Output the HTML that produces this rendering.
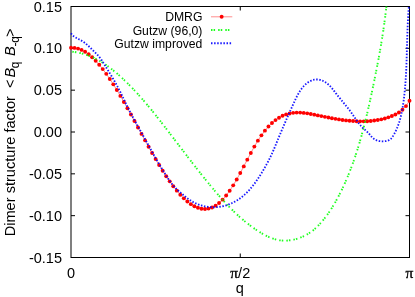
<!DOCTYPE html>
<html><head><meta charset="utf-8"><title>plot</title>
<style>
html,body{margin:0;padding:0;background:#fff;}
body{width:415px;height:297px;overflow:hidden;}
svg{display:block;will-change:transform;}
text{font-family:"Liberation Sans",sans-serif;font-size:14.5px;fill:#000;}
.pi{font-family:"Liberation Serif",serif;font-size:15.5px;stroke:#000;stroke-width:0.35px;}
.it{font-family:"Liberation Sans",sans-serif;font-style:italic;}
</style></head><body>
<svg width="415" height="297" viewBox="0 0 415 297">
<rect x="0" y="0" width="415" height="297" fill="#fff"/>
<g fill="none" stroke="#000" stroke-width="1" stroke-opacity="1">
<rect x="71.0" y="6.5" width="338.5" height="251.0"/>
<path d="M71.0,48.33h4M409.5,48.33h-4"/><path d="M71.0,90.17h4M409.5,90.17h-4"/><path d="M71.0,132.00h4M409.5,132.00h-4"/><path d="M71.0,173.83h4M409.5,173.83h-4"/><path d="M71.0,215.67h4M409.5,215.67h-4"/><path d="M240.25,6.5v4M240.25,257.5v-4"/>
</g>
<g fill="none" stroke="#ff0000" stroke-width="1" stroke-opacity="0.45">
<path d="M71.00,47.80 L74.53,47.91 L78.05,48.58 L81.58,49.88 L85.10,51.79 L88.63,54.27 L92.16,57.27 L95.68,60.77 L99.21,64.73 L102.73,69.10 L106.26,73.84 L109.79,78.93 L113.31,84.33 L116.84,89.99 L120.36,95.88 L123.89,101.96 L127.42,108.20 L130.94,114.55 L134.47,120.98 L137.99,127.45 L141.52,133.92 L145.05,140.36 L148.57,146.73 L152.10,152.99 L155.62,159.10 L159.15,165.03 L162.68,170.74 L166.20,176.19 L169.73,181.35 L173.26,186.18 L176.78,190.65 L180.31,194.71 L183.83,198.35 L187.36,201.51 L190.89,204.16 L194.41,206.27 L197.94,207.81 L201.46,208.73 L204.99,209.00 L208.52,208.60 L212.04,207.49 L215.57,205.65 L219.09,203.04 L222.62,199.65 L226.15,195.53 L229.67,190.74 L233.20,185.36 L236.72,179.43 L240.25,173.06 L243.78,166.40 L247.30,159.64 L250.83,152.97 L254.35,146.58 L257.88,140.65 L261.41,135.33 L264.93,130.64 L268.46,126.55 L271.98,123.04 L275.51,120.09 L279.04,117.69 L282.56,115.81 L286.09,114.41 L289.61,113.44 L293.14,112.85 L296.67,112.59 L300.19,112.62 L303.72,112.89 L307.24,113.34 L310.77,113.94 L314.30,114.64 L317.82,115.38 L321.35,116.12 L324.88,116.85 L328.40,117.55 L331.93,118.22 L335.45,118.84 L338.98,119.42 L342.51,119.93 L346.03,120.38 L349.56,120.75 L353.08,121.04 L356.61,121.24 L360.14,121.34 L363.66,121.33 L367.19,121.20 L370.71,120.95 L374.24,120.57 L377.77,120.04 L381.29,119.33 L384.82,118.45 L388.34,117.36 L391.87,116.06 L395.40,114.48 L398.92,112.45 L402.45,109.73 L405.97,106.10 L409.50,100.70"/>
<path d="M211,16.8H232.3"/>
</g>
<g fill="#ff0000" stroke="none"><circle cx="71.00" cy="47.80" r="1.95"/><circle cx="74.53" cy="47.91" r="1.95"/><circle cx="78.05" cy="48.58" r="1.95"/><circle cx="81.58" cy="49.88" r="1.95"/><circle cx="85.10" cy="51.79" r="1.95"/><circle cx="88.63" cy="54.27" r="1.95"/><circle cx="92.16" cy="57.27" r="1.95"/><circle cx="95.68" cy="60.77" r="1.95"/><circle cx="99.21" cy="64.73" r="1.95"/><circle cx="102.73" cy="69.10" r="1.95"/><circle cx="106.26" cy="73.84" r="1.95"/><circle cx="109.79" cy="78.93" r="1.95"/><circle cx="113.31" cy="84.33" r="1.95"/><circle cx="116.84" cy="89.99" r="1.95"/><circle cx="120.36" cy="95.88" r="1.95"/><circle cx="123.89" cy="101.96" r="1.95"/><circle cx="127.42" cy="108.20" r="1.95"/><circle cx="130.94" cy="114.55" r="1.95"/><circle cx="134.47" cy="120.98" r="1.95"/><circle cx="137.99" cy="127.45" r="1.95"/><circle cx="141.52" cy="133.92" r="1.95"/><circle cx="145.05" cy="140.36" r="1.95"/><circle cx="148.57" cy="146.73" r="1.95"/><circle cx="152.10" cy="152.99" r="1.95"/><circle cx="155.62" cy="159.10" r="1.95"/><circle cx="159.15" cy="165.03" r="1.95"/><circle cx="162.68" cy="170.74" r="1.95"/><circle cx="166.20" cy="176.19" r="1.95"/><circle cx="169.73" cy="181.35" r="1.95"/><circle cx="173.26" cy="186.18" r="1.95"/><circle cx="176.78" cy="190.65" r="1.95"/><circle cx="180.31" cy="194.71" r="1.95"/><circle cx="183.83" cy="198.35" r="1.95"/><circle cx="187.36" cy="201.51" r="1.95"/><circle cx="190.89" cy="204.16" r="1.95"/><circle cx="194.41" cy="206.27" r="1.95"/><circle cx="197.94" cy="207.81" r="1.95"/><circle cx="201.46" cy="208.73" r="1.95"/><circle cx="204.99" cy="209.00" r="1.95"/><circle cx="208.52" cy="208.60" r="1.95"/><circle cx="212.04" cy="207.49" r="1.95"/><circle cx="215.57" cy="205.65" r="1.95"/><circle cx="219.09" cy="203.04" r="1.95"/><circle cx="222.62" cy="199.65" r="1.95"/><circle cx="226.15" cy="195.53" r="1.95"/><circle cx="229.67" cy="190.74" r="1.95"/><circle cx="233.20" cy="185.36" r="1.95"/><circle cx="236.72" cy="179.43" r="1.95"/><circle cx="240.25" cy="173.06" r="1.95"/><circle cx="243.78" cy="166.40" r="1.95"/><circle cx="247.30" cy="159.64" r="1.95"/><circle cx="250.83" cy="152.97" r="1.95"/><circle cx="254.35" cy="146.58" r="1.95"/><circle cx="257.88" cy="140.65" r="1.95"/><circle cx="261.41" cy="135.33" r="1.95"/><circle cx="264.93" cy="130.64" r="1.95"/><circle cx="268.46" cy="126.55" r="1.95"/><circle cx="271.98" cy="123.04" r="1.95"/><circle cx="275.51" cy="120.09" r="1.95"/><circle cx="279.04" cy="117.69" r="1.95"/><circle cx="282.56" cy="115.81" r="1.95"/><circle cx="286.09" cy="114.41" r="1.95"/><circle cx="289.61" cy="113.44" r="1.95"/><circle cx="293.14" cy="112.85" r="1.95"/><circle cx="296.67" cy="112.59" r="1.95"/><circle cx="300.19" cy="112.62" r="1.95"/><circle cx="303.72" cy="112.89" r="1.95"/><circle cx="307.24" cy="113.34" r="1.95"/><circle cx="310.77" cy="113.94" r="1.95"/><circle cx="314.30" cy="114.64" r="1.95"/><circle cx="317.82" cy="115.38" r="1.95"/><circle cx="321.35" cy="116.12" r="1.95"/><circle cx="324.88" cy="116.85" r="1.95"/><circle cx="328.40" cy="117.55" r="1.95"/><circle cx="331.93" cy="118.22" r="1.95"/><circle cx="335.45" cy="118.84" r="1.95"/><circle cx="338.98" cy="119.42" r="1.95"/><circle cx="342.51" cy="119.93" r="1.95"/><circle cx="346.03" cy="120.38" r="1.95"/><circle cx="349.56" cy="120.75" r="1.95"/><circle cx="353.08" cy="121.04" r="1.95"/><circle cx="356.61" cy="121.24" r="1.95"/><circle cx="360.14" cy="121.34" r="1.95"/><circle cx="363.66" cy="121.33" r="1.95"/><circle cx="367.19" cy="121.20" r="1.95"/><circle cx="370.71" cy="120.95" r="1.95"/><circle cx="374.24" cy="120.57" r="1.95"/><circle cx="377.77" cy="120.04" r="1.95"/><circle cx="381.29" cy="119.33" r="1.95"/><circle cx="384.82" cy="118.45" r="1.95"/><circle cx="388.34" cy="117.36" r="1.95"/><circle cx="391.87" cy="116.06" r="1.95"/><circle cx="395.40" cy="114.48" r="1.95"/><circle cx="398.92" cy="112.45" r="1.95"/><circle cx="402.45" cy="109.73" r="1.95"/><circle cx="405.97" cy="106.10" r="1.95"/><circle cx="409.50" cy="100.70" r="1.95"/><circle cx="221.65" cy="16.8" r="1.95"/></g>
<g fill="none" stroke="#00ff00" stroke-width="1.9" stroke-dasharray="1.5 1.1 1.5 3.05" stroke-dashoffset="-1.5" stroke-opacity="0.88">
<path d="M70.81,51.58 L71.65,51.65 L72.49,51.74 L73.33,51.83 L74.16,51.94 L74.98,52.06 L75.80,52.19 L76.62,52.33 L77.43,52.47 L78.24,52.63 L79.04,52.80 L79.84,52.98 L80.64,53.17 L81.43,53.36 L82.21,53.57 L82.99,53.78 L83.77,54.01 L84.54,54.24 L85.31,54.49 L86.08,54.74 L86.84,55.00 L87.59,55.27 L88.34,55.54 L89.09,55.83 L89.84,56.12 L90.58,56.42 L91.31,56.73 L92.05,57.05 L92.77,57.38 L93.50,57.71 L94.22,58.05 L94.94,58.40 L95.65,58.75 L96.36,59.11 L97.07,59.48 L97.77,59.86 L98.47,60.24 L99.17,60.63 L99.86,61.03 L100.55,61.43 L101.23,61.84 L101.92,62.25 L102.59,62.68 L103.27,63.10 L103.94,63.54 L104.61,63.97 L105.28,64.42 L105.94,64.87 L106.60,65.32 L107.26,65.78 L107.91,66.25 L108.56,66.72 L109.21,67.19 L109.85,67.67 L110.49,68.16 L111.13,68.65 L111.77,69.14 L112.40,69.64 L113.03,70.14 L113.66,70.65 L114.29,71.16 L114.91,71.67 L115.53,72.19 L116.15,72.71 L116.76,73.24 L117.37,73.76 L117.98,74.29 L118.59,74.83 L119.19,75.37 L119.80,75.91 L120.40,76.45 L121.00,76.99 L121.59,77.54 L122.18,78.09 L122.78,78.65 L123.36,79.20 L123.95,79.76 L124.54,80.32 L125.12,80.88 L125.70,81.44 L126.28,82.00 L126.86,82.57 L127.43,83.14 L128.00,83.71 L128.58,84.28 L129.14,84.85 L129.71,85.42 L130.28,86.00 L130.84,86.58 L131.40,87.16 L131.96,87.74 L132.52,88.32 L133.08,88.90 L133.63,89.49 L134.19,90.08 L134.74,90.66 L135.29,91.25 L135.84,91.85 L136.38,92.44 L136.93,93.03 L137.47,93.63 L138.01,94.22 L138.55,94.82 L139.09,95.42 L139.63,96.02 L140.16,96.62 L140.70,97.22 L141.23,97.83 L141.76,98.43 L142.29,99.04 L142.82,99.65 L143.35,100.26 L143.88,100.87 L144.40,101.48 L144.93,102.09 L145.45,102.70 L145.97,103.32 L146.49,103.93 L147.01,104.55 L147.53,105.16 L148.04,105.78 L148.56,106.40 L149.07,107.02 L149.59,107.64 L150.10,108.26 L150.61,108.89 L151.12,109.51 L151.63,110.13 L152.14,110.76 L152.65,111.38 L153.15,112.01 L153.66,112.64 L154.16,113.27 L154.67,113.89 L155.17,114.52 L155.67,115.15 L156.18,115.78 L156.68,116.41 L157.18,117.05 L157.68,117.68 L158.17,118.31 L158.67,118.94 L159.17,119.58 L159.67,120.21 L160.16,120.85 L160.66,121.48 L161.15,122.12 L161.65,122.75 L162.14,123.39 L162.63,124.03 L163.13,124.66 L163.62,125.30 L164.11,125.94 L164.60,126.58 L165.09,127.21 L165.59,127.85 L166.08,128.49 L166.57,129.13 L167.06,129.77 L167.54,130.41 L168.03,131.05 L168.52,131.69 L169.01,132.33 L169.50,132.97 L169.99,133.61 L170.48,134.25 L170.96,134.89 L171.45,135.53 L171.94,136.17 L172.43,136.81 L172.91,137.45 L173.40,138.09 L173.89,138.73 L174.38,139.37 L174.86,140.01 L175.35,140.65 L175.84,141.29 L176.32,141.93 L176.81,142.57 L177.30,143.21 L177.78,143.85 L178.27,144.49 L178.76,145.13 L179.24,145.77 L179.73,146.41 L180.22,147.06 L180.70,147.70 L181.19,148.34 L181.68,148.98 L182.16,149.62 L182.65,150.26 L183.14,150.90 L183.63,151.54 L184.11,152.18 L184.60,152.81 L185.09,153.45 L185.58,154.09 L186.07,154.73 L186.55,155.37 L187.04,156.01 L187.53,156.65 L188.02,157.29 L188.51,157.93 L189.00,158.56 L189.49,159.20 L189.98,159.84 L190.47,160.48 L190.96,161.11 L191.46,161.75 L191.95,162.39 L192.44,163.02 L192.93,163.66 L193.43,164.30 L193.92,164.93 L194.41,165.57 L194.91,166.20 L195.40,166.84 L195.90,167.47 L196.39,168.10 L196.89,168.74 L197.39,169.37 L197.88,170.01 L198.38,170.64 L198.88,171.27 L199.38,171.90 L199.88,172.53 L200.38,173.17 L200.88,173.80 L201.38,174.43 L201.88,175.06 L202.38,175.69 L202.89,176.32 L203.39,176.95 L203.89,177.57 L204.40,178.20 L204.90,178.83 L205.41,179.46 L205.92,180.08 L206.43,180.71 L206.93,181.34 L207.44,181.96 L207.95,182.59 L208.47,183.21 L208.98,183.83 L209.49,184.46 L210.00,185.08 L210.52,185.70 L211.03,186.32 L211.55,186.95 L212.06,187.57 L212.58,188.19 L213.10,188.81 L213.62,189.42 L214.14,190.04 L214.66,190.66 L215.18,191.28 L215.71,191.89 L216.23,192.51 L216.76,193.12 L217.29,193.73 L217.81,194.34 L218.34,194.95 L218.87,195.56 L219.41,196.17 L219.94,196.78 L220.47,197.38 L221.01,197.99 L221.55,198.59 L222.09,199.19 L222.63,199.79 L223.17,200.39 L223.71,200.99 L224.26,201.59 L224.80,202.18 L225.35,202.77 L225.90,203.36 L226.45,203.95 L227.00,204.54 L227.56,205.12 L228.12,205.71 L228.67,206.29 L229.23,206.87 L229.80,207.45 L230.36,208.02 L230.93,208.60 L231.49,209.17 L232.06,209.74 L232.63,210.30 L233.21,210.87 L233.78,211.43 L234.36,211.99 L234.94,212.55 L235.52,213.10 L236.11,213.66 L236.69,214.21 L237.28,214.75 L237.87,215.30 L238.46,215.84 L239.06,216.38 L239.66,216.92 L240.26,217.45 L240.86,217.98 L241.47,218.51 L242.07,219.03 L242.68,219.56 L243.29,220.08 L243.91,220.59 L244.53,221.11 L245.15,221.62 L245.77,222.12 L246.40,222.63 L247.02,223.13 L247.65,223.62 L248.29,224.12 L248.92,224.61 L249.56,225.09 L250.20,225.58 L250.85,226.05 L251.50,226.53 L252.15,227.00 L252.80,227.47 L253.46,227.94 L254.12,228.40 L254.78,228.85 L255.45,229.31 L256.12,229.76 L256.79,230.20 L257.46,230.64 L258.14,231.08 L258.82,231.51 L259.51,231.94 L260.20,232.37 L260.89,232.79 L261.58,233.20 L262.28,233.61 L262.98,234.02 L263.69,234.41 L264.40,234.80 L265.11,235.18 L265.82,235.55 L266.54,235.92 L267.26,236.27 L267.99,236.61 L268.72,236.95 L269.45,237.27 L270.19,237.58 L270.93,237.88 L271.68,238.16 L272.43,238.43 L273.18,238.69 L273.93,238.94 L274.69,239.17 L275.46,239.38 L276.23,239.58 L277.00,239.76 L277.77,239.93 L278.55,240.08 L279.34,240.21 L280.12,240.32 L280.92,240.41 L281.71,240.49 L282.51,240.55 L283.31,240.59 L284.11,240.61 L284.91,240.62 L285.72,240.61 L286.52,240.58 L287.33,240.54 L288.13,240.48 L288.94,240.41 L289.75,240.31 L290.55,240.21 L291.35,240.09 L292.15,239.95 L292.95,239.80 L293.75,239.63 L294.54,239.45 L295.33,239.25 L296.12,239.04 L296.90,238.81 L297.68,238.58 L298.45,238.32 L299.22,238.06 L299.99,237.78 L300.75,237.48 L301.50,237.18 L302.25,236.86 L302.99,236.53 L303.73,236.18 L304.46,235.83 L305.19,235.46 L305.90,235.08 L306.61,234.69 L307.32,234.28 L308.01,233.87 L308.70,233.44 L309.38,233.00 L310.05,232.55 L310.71,232.10 L311.36,231.63 L312.01,231.15 L312.64,230.66 L313.27,230.16 L313.88,229.65 L314.49,229.13 L315.09,228.60 L315.69,228.07 L316.27,227.53 L316.85,226.98 L317.42,226.42 L317.98,225.85 L318.54,225.28 L319.09,224.70 L319.64,224.12 L320.18,223.53 L320.71,222.94 L321.24,222.34 L321.76,221.74 L322.28,221.13 L322.80,220.51 L323.31,219.90 L323.81,219.28 L324.31,218.65 L324.81,218.02 L325.30,217.39 L325.79,216.75 L326.27,216.11 L326.75,215.47 L327.22,214.82 L327.69,214.17 L328.15,213.51 L328.61,212.85 L329.07,212.19 L329.52,211.53 L329.97,210.86 L330.42,210.19 L330.86,209.51 L331.30,208.83 L331.73,208.15 L332.16,207.47 L332.58,206.79 L333.01,206.10 L333.42,205.41 L333.84,204.71 L334.25,204.02 L334.66,203.32 L335.06,202.62 L335.46,201.92 L335.86,201.21 L336.26,200.51 L336.65,199.80 L337.04,199.09 L337.42,198.38 L337.80,197.66 L338.18,196.95 L338.56,196.23 L338.93,195.51 L339.30,194.79 L339.67,194.07 L340.03,193.35 L340.40,192.63 L340.76,191.90 L341.11,191.18 L341.47,190.45 L341.82,189.73 L342.17,189.00 L342.51,188.27 L342.86,187.54 L343.20,186.81 L343.54,186.08 L343.88,185.35 L344.21,184.61 L344.54,183.88 L344.87,183.15 L345.20,182.41 L345.52,181.67 L345.85,180.94 L346.17,180.20 L346.48,179.46 L346.80,178.72 L347.11,177.98 L347.42,177.24 L347.73,176.50 L348.04,175.75 L348.34,175.01 L348.65,174.26 L348.95,173.52 L349.24,172.77 L349.54,172.03 L349.83,171.28 L350.12,170.53 L350.41,169.78 L350.70,169.03 L350.99,168.28 L351.27,167.53 L351.55,166.78 L351.83,166.02 L352.11,165.27 L352.39,164.52 L352.66,163.76 L352.93,163.01 L353.20,162.25 L353.47,161.49 L353.74,160.73 L354.00,159.98 L354.26,159.22 L354.52,158.46 L354.78,157.70 L355.04,156.93 L355.30,156.17 L355.55,155.41 L355.80,154.65 L356.05,153.88 L356.30,153.12 L356.55,152.35 L356.80,151.59 L357.04,150.82 L357.28,150.06 L357.52,149.29 L357.76,148.52 L358.00,147.75 L358.24,146.98 L358.47,146.21 L358.70,145.44 L358.93,144.67 L359.16,143.90 L359.39,143.13 L359.62,142.36 L359.84,141.58 L360.07,140.81 L360.29,140.04 L360.51,139.26 L360.73,138.49 L360.95,137.71 L361.17,136.94 L361.38,136.16 L361.60,135.39 L361.81,134.61 L362.02,133.83 L362.24,133.05 L362.45,132.28 L362.65,131.50 L362.86,130.72 L363.07,129.94 L363.27,129.16 L363.47,128.38 L363.68,127.60 L363.88,126.82 L364.08,126.04 L364.28,125.25 L364.48,124.47 L364.67,123.69 L364.87,122.91 L365.06,122.13 L365.26,121.34 L365.45,120.56 L365.64,119.78 L365.83,118.99 L366.02,118.21 L366.21,117.42 L366.40,116.64 L366.59,115.85 L366.77,115.07 L366.96,114.28 L367.14,113.50 L367.33,112.71 L367.51,111.92 L367.69,111.14 L367.87,110.35 L368.05,109.56 L368.23,108.78 L368.41,107.99 L368.59,107.20 L368.77,106.42 L368.94,105.63 L369.12,104.84 L369.30,104.05 L369.47,103.26 L369.64,102.48 L369.82,101.69 L369.99,100.90 L370.16,100.11 L370.34,99.32 L370.51,98.53 L370.68,97.75 L370.85,96.96 L371.02,96.17 L371.19,95.38 L371.36,94.59 L371.52,93.80 L371.69,93.01 L371.86,92.22 L372.03,91.43 L372.19,90.65 L372.36,89.86 L372.53,89.07 L372.69,88.28 L372.86,87.49 L373.02,86.70 L373.19,85.91 L373.35,85.12 L373.51,84.33 L373.68,83.54 L373.84,82.75 L374.00,81.97 L374.16,81.18 L374.33,80.39 L374.49,79.60 L374.65,78.81 L374.81,78.02 L374.97,77.23 L375.13,76.44 L375.29,75.65 L375.44,74.86 L375.60,74.07 L375.76,73.28 L375.92,72.49 L376.07,71.70 L376.23,70.91 L376.38,70.12 L376.54,69.33 L376.69,68.55 L376.85,67.76 L377.00,66.97 L377.15,66.18 L377.30,65.38 L377.45,64.59 L377.61,63.80 L377.76,63.01 L377.90,62.22 L378.05,61.43 L378.20,60.64 L378.35,59.85 L378.50,59.06 L378.64,58.27 L378.79,57.48 L378.93,56.69 L379.08,55.90 L379.22,55.10 L379.36,54.31 L379.51,53.52 L379.65,52.73 L379.79,51.94 L379.93,51.15 L380.07,50.35 L380.21,49.56 L380.35,48.77 L380.48,47.98 L380.62,47.18 L380.75,46.39 L380.89,45.60 L381.02,44.80 L381.16,44.01 L381.29,43.22 L381.42,42.42 L381.55,41.63 L381.68,40.83 L381.81,40.04 L381.94,39.25 L382.07,38.45 L382.20,37.66 L382.32,36.86 L382.45,36.07 L382.57,35.27 L382.69,34.48 L382.82,33.68 L382.94,32.88 L383.06,32.09 L383.18,31.29 L383.30,30.49 L383.42,29.70 L383.53,28.90 L383.65,28.10 L383.76,27.31 L383.88,26.51 L383.99,25.71 L384.10,24.91 L384.21,24.11 L384.32,23.32 L384.43,22.52 L384.54,21.72 L384.65,20.92 L384.76,20.12 L384.86,19.32 L384.97,18.52 L385.07,17.72 L385.17,16.92 L385.27,16.12 L385.37,15.32 L385.47,14.52 L385.57,13.71 L385.67,12.91 L385.76,12.11 L385.86,11.31 L385.95,10.50 L386.04,9.70 L386.13,8.90 L386.22,8.10 L386.31,7.29 L386.40,6.49"/>
<path d="M211,30H232.3" stroke-dashoffset="0"/>
</g>
<g fill="none" stroke="#0000ff" stroke-width="1.85" stroke-dasharray="1.5 1.6" stroke-dashoffset="0" stroke-opacity="0.9">
<path d="M71.01,33.28 L71.43,33.89 L71.89,34.46 L72.38,35.00 L72.89,35.49 L73.43,35.96 L73.99,36.40 L74.57,36.81 L75.16,37.21 L75.77,37.58 L76.39,37.94 L77.01,38.29 L77.65,38.63 L78.29,38.96 L78.93,39.29 L79.57,39.62 L80.21,39.95 L80.84,40.29 L81.47,40.64 L82.09,41.00 L82.69,41.38 L83.29,41.78 L83.87,42.18 L84.45,42.60 L85.02,43.03 L85.58,43.47 L86.13,43.92 L86.67,44.38 L87.21,44.85 L87.74,45.32 L88.27,45.80 L88.80,46.29 L89.32,46.78 L89.83,47.28 L90.35,47.78 L90.86,48.28 L91.37,48.78 L91.88,49.29 L92.40,49.79 L92.91,50.30 L93.42,50.80 L93.93,51.31 L94.45,51.81 L94.96,52.31 L95.48,52.82 L95.99,53.32 L96.49,53.83 L96.99,54.34 L97.49,54.86 L97.97,55.39 L98.45,55.92 L98.91,56.46 L99.37,57.01 L99.81,57.57 L100.24,58.13 L100.66,58.71 L101.07,59.29 L101.47,59.88 L101.87,60.48 L102.26,61.08 L102.64,61.68 L103.02,62.29 L103.40,62.90 L103.77,63.52 L104.14,64.13 L104.52,64.75 L104.89,65.36 L105.26,65.97 L105.64,66.58 L106.02,67.20 L106.39,67.81 L106.77,68.42 L107.15,69.03 L107.53,69.64 L107.91,70.25 L108.29,70.86 L108.66,71.47 L109.04,72.08 L109.42,72.69 L109.80,73.30 L110.18,73.91 L110.55,74.52 L110.93,75.13 L111.30,75.74 L111.68,76.35 L112.05,76.97 L112.42,77.58 L112.79,78.20 L113.15,78.81 L113.52,79.43 L113.88,80.05 L114.24,80.66 L114.60,81.28 L114.95,81.91 L115.31,82.53 L115.66,83.15 L116.00,83.78 L116.35,84.41 L116.69,85.03 L117.03,85.66 L117.36,86.30 L117.70,86.93 L118.03,87.56 L118.36,88.20 L118.69,88.83 L119.01,89.47 L119.34,90.11 L119.66,90.75 L119.98,91.39 L120.30,92.03 L120.62,92.67 L120.93,93.31 L121.25,93.96 L121.56,94.60 L121.88,95.24 L122.19,95.89 L122.50,96.53 L122.81,97.18 L123.12,97.82 L123.43,98.47 L123.75,99.11 L124.06,99.76 L124.37,100.40 L124.68,101.05 L124.99,101.69 L125.30,102.34 L125.62,102.98 L125.93,103.63 L126.24,104.27 L126.56,104.92 L126.87,105.56 L127.19,106.20 L127.51,106.84 L127.83,107.48 L128.15,108.12 L128.48,108.76 L128.80,109.40 L129.13,110.04 L129.46,110.68 L129.78,111.31 L130.11,111.95 L130.45,112.58 L130.78,113.22 L131.11,113.85 L131.45,114.49 L131.79,115.12 L132.12,115.75 L132.46,116.38 L132.80,117.01 L133.14,117.64 L133.49,118.27 L133.83,118.90 L134.17,119.53 L134.51,120.16 L134.86,120.79 L135.21,121.42 L135.55,122.05 L135.90,122.67 L136.24,123.30 L136.59,123.93 L136.94,124.56 L137.29,125.18 L137.64,125.81 L137.99,126.44 L138.33,127.06 L138.68,127.69 L139.03,128.31 L139.38,128.94 L139.73,129.56 L140.08,130.19 L140.43,130.82 L140.78,131.44 L141.13,132.07 L141.48,132.69 L141.83,133.32 L142.18,133.95 L142.53,134.57 L142.87,135.20 L143.22,135.82 L143.57,136.45 L143.92,137.08 L144.26,137.70 L144.61,138.33 L144.96,138.96 L145.30,139.58 L145.65,140.21 L146.00,140.84 L146.34,141.46 L146.69,142.09 L147.04,142.71 L147.38,143.34 L147.73,143.97 L148.08,144.59 L148.42,145.22 L148.77,145.85 L149.12,146.47 L149.47,147.10 L149.81,147.72 L150.16,148.35 L150.51,148.97 L150.86,149.60 L151.21,150.22 L151.56,150.85 L151.91,151.47 L152.26,152.10 L152.61,152.72 L152.96,153.35 L153.31,153.97 L153.66,154.59 L154.02,155.22 L154.37,155.84 L154.72,156.46 L155.08,157.08 L155.43,157.70 L155.79,158.33 L156.15,158.95 L156.50,159.57 L156.86,160.19 L157.22,160.81 L157.58,161.43 L157.94,162.05 L158.30,162.66 L158.67,163.28 L159.03,163.90 L159.39,164.52 L159.76,165.13 L160.13,165.75 L160.49,166.37 L160.86,166.98 L161.23,167.60 L161.60,168.21 L161.97,168.83 L162.35,169.44 L162.72,170.05 L163.10,170.66 L163.47,171.27 L163.85,171.89 L164.23,172.50 L164.61,173.11 L164.99,173.71 L165.38,174.32 L165.76,174.93 L166.15,175.54 L166.53,176.14 L166.92,176.75 L167.31,177.35 L167.71,177.96 L168.10,178.56 L168.50,179.15 L168.91,179.75 L169.31,180.34 L169.72,180.93 L170.14,181.51 L170.56,182.09 L170.98,182.67 L171.42,183.24 L171.85,183.80 L172.30,184.36 L172.75,184.91 L173.21,185.46 L173.67,185.99 L174.15,186.52 L174.63,187.05 L175.12,187.56 L175.61,188.07 L176.12,188.58 L176.63,189.07 L177.14,189.57 L177.66,190.06 L178.18,190.54 L178.71,191.02 L179.24,191.50 L179.78,191.97 L180.31,192.45 L180.85,192.92 L181.40,193.38 L181.94,193.85 L182.49,194.32 L183.04,194.78 L183.59,195.25 L184.14,195.71 L184.69,196.17 L185.25,196.62 L185.81,197.07 L186.38,197.51 L186.94,197.95 L187.51,198.38 L188.09,198.80 L188.67,199.21 L189.26,199.62 L189.85,200.02 L190.44,200.40 L191.04,200.78 L191.65,201.15 L192.26,201.51 L192.89,201.87 L193.51,202.21 L194.15,202.54 L194.78,202.86 L195.43,203.17 L196.08,203.47 L196.74,203.76 L197.40,204.04 L198.06,204.30 L198.73,204.56 L199.41,204.81 L200.09,205.04 L200.77,205.27 L201.45,205.48 L202.15,205.68 L202.84,205.87 L203.53,206.05 L204.23,206.22 L204.94,206.37 L205.64,206.51 L206.35,206.64 L207.06,206.76 L207.77,206.87 L208.48,206.96 L209.19,207.04 L209.91,207.11 L210.62,207.16 L211.34,207.21 L212.05,207.24 L212.77,207.26 L213.49,207.26 L214.20,207.26 L214.92,207.24 L215.64,207.21 L216.35,207.17 L217.07,207.12 L217.78,207.05 L218.49,206.97 L219.20,206.88 L219.91,206.78 L220.62,206.67 L221.32,206.54 L222.03,206.41 L222.72,206.26 L223.42,206.10 L224.12,205.93 L224.81,205.74 L225.49,205.55 L226.18,205.34 L226.86,205.13 L227.54,204.90 L228.21,204.66 L228.88,204.41 L229.54,204.15 L230.20,203.88 L230.86,203.60 L231.51,203.30 L232.16,203.00 L232.81,202.69 L233.45,202.37 L234.08,202.04 L234.71,201.70 L235.34,201.35 L235.96,200.99 L236.57,200.62 L237.19,200.25 L237.79,199.86 L238.39,199.47 L238.99,199.07 L239.58,198.66 L240.17,198.24 L240.75,197.82 L241.32,197.39 L241.89,196.95 L242.45,196.50 L243.01,196.05 L243.56,195.59 L244.11,195.12 L244.65,194.64 L245.18,194.16 L245.71,193.68 L246.23,193.18 L246.74,192.68 L247.25,192.18 L247.76,191.67 L248.25,191.15 L248.74,190.63 L249.22,190.10 L249.70,189.57 L250.17,189.03 L250.64,188.49 L251.10,187.95 L251.56,187.40 L252.01,186.84 L252.46,186.28 L252.90,185.72 L253.33,185.16 L253.77,184.59 L254.20,184.01 L254.62,183.44 L255.04,182.86 L255.46,182.28 L255.87,181.69 L256.28,181.11 L256.69,180.52 L257.10,179.93 L257.50,179.33 L257.90,178.74 L258.30,178.14 L258.69,177.55 L259.08,176.95 L259.47,176.35 L259.86,175.74 L260.25,175.14 L260.63,174.53 L261.01,173.93 L261.39,173.32 L261.77,172.71 L262.14,172.10 L262.51,171.48 L262.88,170.87 L263.25,170.25 L263.61,169.64 L263.97,169.02 L264.33,168.40 L264.69,167.78 L265.04,167.16 L265.39,166.53 L265.74,165.91 L266.09,165.28 L266.43,164.65 L266.78,164.02 L267.12,163.39 L267.45,162.76 L267.79,162.12 L268.12,161.49 L268.45,160.85 L268.77,160.22 L269.10,159.58 L269.42,158.94 L269.74,158.30 L270.05,157.65 L270.37,157.01 L270.68,156.36 L270.98,155.72 L271.29,155.07 L271.59,154.42 L271.89,153.77 L272.19,153.12 L272.48,152.46 L272.78,151.81 L273.06,151.15 L273.35,150.50 L273.64,149.84 L273.92,149.18 L274.20,148.52 L274.48,147.86 L274.75,147.20 L275.03,146.54 L275.30,145.88 L275.58,145.22 L275.85,144.55 L276.12,143.89 L276.39,143.23 L276.66,142.56 L276.93,141.90 L277.20,141.24 L277.47,140.57 L277.74,139.91 L278.02,139.25 L278.29,138.58 L278.56,137.92 L278.83,137.26 L279.11,136.60 L279.38,135.93 L279.66,135.27 L279.93,134.61 L280.21,133.95 L280.48,133.29 L280.76,132.63 L281.04,131.97 L281.32,131.31 L281.60,130.65 L281.88,129.99 L282.16,129.33 L282.44,128.67 L282.72,128.02 L283.00,127.36 L283.28,126.70 L283.56,126.04 L283.85,125.38 L284.13,124.73 L284.42,124.07 L284.70,123.41 L284.99,122.76 L285.27,122.10 L285.56,121.44 L285.84,120.79 L286.13,120.13 L286.42,119.48 L286.71,118.82 L287.00,118.16 L287.29,117.51 L287.58,116.85 L287.87,116.20 L288.16,115.54 L288.45,114.89 L288.74,114.23 L289.03,113.58 L289.32,112.93 L289.61,112.27 L289.91,111.62 L290.20,110.96 L290.49,110.31 L290.79,109.65 L291.08,109.00 L291.38,108.35 L291.67,107.69 L291.97,107.04 L292.26,106.39 L292.56,105.73 L292.86,105.08 L293.15,104.43 L293.45,103.77 L293.75,103.12 L294.05,102.47 L294.35,101.81 L294.65,101.16 L294.95,100.51 L295.25,99.86 L295.55,99.21 L295.86,98.56 L296.17,97.91 L296.49,97.27 L296.81,96.63 L297.13,95.99 L297.46,95.36 L297.80,94.73 L298.14,94.10 L298.49,93.48 L298.84,92.86 L299.21,92.25 L299.58,91.64 L299.97,91.04 L300.36,90.45 L300.76,89.86 L301.18,89.28 L301.60,88.70 L302.04,88.14 L302.49,87.58 L302.95,87.03 L303.43,86.49 L303.92,85.96 L304.42,85.43 L304.94,84.92 L305.47,84.42 L306.01,83.94 L306.57,83.47 L307.14,83.02 L307.72,82.60 L308.31,82.19 L308.92,81.80 L309.53,81.44 L310.16,81.10 L310.80,80.79 L311.44,80.51 L312.10,80.26 L312.77,80.05 L313.45,79.86 L314.13,79.71 L314.83,79.60 L315.53,79.52 L316.24,79.48 L316.95,79.48 L317.66,79.51 L318.37,79.58 L319.08,79.69 L319.78,79.82 L320.48,80.00 L321.17,80.20 L321.85,80.44 L322.53,80.71 L323.19,81.00 L323.84,81.32 L324.48,81.67 L325.10,82.04 L325.72,82.43 L326.32,82.84 L326.90,83.27 L327.47,83.72 L328.03,84.18 L328.57,84.65 L329.09,85.14 L329.60,85.63 L330.10,86.14 L330.59,86.66 L331.07,87.19 L331.54,87.72 L332.00,88.27 L332.45,88.82 L332.90,89.37 L333.34,89.94 L333.78,90.50 L334.21,91.07 L334.64,91.64 L335.07,92.21 L335.50,92.78 L335.94,93.35 L336.37,93.92 L336.80,94.49 L337.24,95.05 L337.69,95.62 L338.13,96.17 L338.58,96.73 L339.03,97.29 L339.48,97.84 L339.94,98.39 L340.39,98.95 L340.85,99.50 L341.31,100.05 L341.77,100.59 L342.22,101.14 L342.68,101.69 L343.14,102.24 L343.60,102.79 L344.06,103.34 L344.52,103.89 L344.98,104.44 L345.44,104.99 L345.89,105.54 L346.34,106.10 L346.80,106.65 L347.24,107.21 L347.69,107.77 L348.13,108.34 L348.57,108.90 L349.01,109.47 L349.45,110.04 L349.88,110.62 L350.30,111.20 L350.72,111.78 L351.14,112.37 L351.56,112.96 L351.97,113.55 L352.37,114.15 L352.78,114.74 L353.18,115.34 L353.59,115.94 L353.99,116.54 L354.39,117.13 L354.79,117.73 L355.20,118.33 L355.60,118.92 L356.01,119.52 L356.42,120.10 L356.83,120.69 L357.25,121.27 L357.67,121.85 L358.09,122.43 L358.52,122.99 L358.96,123.56 L359.40,124.11 L359.84,124.66 L360.30,125.21 L360.76,125.74 L361.23,126.27 L361.71,126.79 L362.20,127.29 L362.70,127.79 L363.21,128.28 L363.73,128.76 L364.26,129.23 L364.79,129.69 L365.33,130.15 L365.87,130.61 L366.40,131.08 L366.92,131.56 L367.43,132.05 L367.93,132.56 L368.42,133.08 L368.90,133.61 L369.37,134.16 L369.83,134.71 L370.30,135.26 L370.76,135.81 L371.24,136.36 L371.73,136.88 L372.23,137.39 L372.75,137.88 L373.29,138.33 L373.86,138.76 L374.44,139.16 L375.04,139.53 L375.66,139.86 L376.29,140.16 L376.95,140.42 L377.62,140.65 L378.30,140.84 L378.99,140.99 L379.70,141.11 L380.42,141.20 L381.15,141.26 L381.88,141.29 L382.62,141.30 L383.36,141.29 L384.10,141.25 L384.84,141.20 L385.58,141.13 L386.30,141.02 L387.01,140.88 L387.69,140.70 L388.35,140.47 L388.97,140.19 L389.55,139.85 L390.10,139.47 L390.61,139.03 L391.10,138.55 L391.56,138.03 L391.99,137.49 L392.40,136.92 L392.80,136.33 L393.19,135.72 L393.56,135.11 L393.92,134.49 L394.28,133.86 L394.62,133.23 L394.96,132.59 L395.29,131.94 L395.60,131.30 L395.92,130.64 L396.22,129.98 L396.51,129.32 L396.80,128.66 L397.08,127.99 L397.35,127.32 L397.61,126.65 L397.87,125.98 L398.12,125.30 L398.37,124.63 L398.60,123.95 L398.84,123.27 L399.06,122.59 L399.28,121.90 L399.49,121.22 L399.70,120.53 L399.90,119.84 L400.09,119.16 L400.28,118.46 L400.47,117.77 L400.64,117.08 L400.82,116.39 L400.99,115.69 L401.15,115.00 L401.31,114.30 L401.46,113.60 L401.61,112.90 L401.76,112.20 L401.90,111.50 L402.04,110.80 L402.17,110.10 L402.30,109.39 L402.43,108.69 L402.55,107.98 L402.67,107.28 L402.79,106.57 L402.90,105.87 L403.01,105.16 L403.12,104.45 L403.22,103.74 L403.33,103.03 L403.43,102.33 L403.52,101.62 L403.62,100.91 L403.71,100.20 L403.80,99.49 L403.89,98.78 L403.98,98.07 L404.07,97.36 L404.15,96.65 L404.23,95.94 L404.31,95.23 L404.39,94.51 L404.47,93.80 L404.55,93.09 L404.62,92.38 L404.69,91.67 L404.76,90.96 L404.83,90.24 L404.90,89.53 L404.96,88.82 L405.03,88.11 L405.09,87.39 L405.15,86.68 L405.21,85.97 L405.27,85.25 L405.32,84.54 L405.38,83.83 L405.43,83.11 L405.48,82.40 L405.54,81.68 L405.59,80.97 L405.63,80.25 L405.68,79.54 L405.73,78.83 L405.77,78.11 L405.82,77.40 L405.86,76.68 L405.90,75.97 L405.94,75.25 L405.98,74.53 L406.02,73.82 L406.06,73.10 L406.09,72.39 L406.13,71.67 L406.16,70.96 L406.20,70.24 L406.23,69.52 L406.26,68.81 L406.30,68.09 L406.33,67.38 L406.36,66.66 L406.39,65.94 L406.41,65.23 L406.44,64.51 L406.47,63.79 L406.50,63.08 L406.52,62.36 L406.55,61.64 L406.57,60.93 L406.60,60.21 L406.62,59.49 L406.64,58.77 L406.67,58.06 L406.69,57.34 L406.71,56.62 L406.73,55.91 L406.75,55.19 L406.78,54.47 L406.80,53.75 L406.82,53.04 L406.84,52.32 L406.86,51.60 L406.88,50.88 L406.90,50.17 L406.92,49.45 L406.94,48.73 L406.96,48.02 L406.98,47.30 L407.00,46.58 L407.02,45.86 L407.04,45.15 L407.06,44.43 L407.08,43.71 L407.10,42.99 L407.12,42.28 L407.14,41.56 L407.16,40.84 L407.18,40.13 L407.20,39.41 L407.22,38.69 L407.24,37.97 L407.26,37.26 L407.28,36.54 L407.31,35.82 L407.33,35.11 L407.35,34.39 L407.38,33.67 L407.40,32.96 L407.43,32.24 L407.45,31.52 L407.48,30.81 L407.50,30.09 L407.53,29.38 L407.56,28.66 L407.59,27.94 L407.62,27.23 L407.65,26.51 L407.68,25.80 L407.71,25.08 L407.74,24.36 L407.77,23.65 L407.81,22.93 L407.84,22.22 L407.88,21.50 L407.92,20.79 L407.95,20.07 L407.99,19.36 L408.03,18.64 L408.07,17.93 L408.11,17.21 L408.16,16.50 L408.20,15.79 L408.25,15.07 L408.29,14.36 L408.34,13.64 L408.39,12.93 L408.44,12.22 L408.49,11.50 L408.54,10.79 L408.60,10.08 L408.65,9.37 L408.71,8.65 L408.77,7.94 L408.82,7.23 L408.89,6.52"/>
<path d="M211,43.2H232.3"/>
</g>
<g><text x="62" y="11.60" text-anchor="end">0.15</text><text x="62" y="53.43" text-anchor="end">0.10</text><text x="62" y="95.27" text-anchor="end">0.05</text><text x="62" y="137.10" text-anchor="end">0.00</text><text x="62" y="178.93" text-anchor="end">-0.05</text><text x="62" y="220.77" text-anchor="end">-0.10</text><text x="62" y="262.60" text-anchor="end">-0.15</text></g>
<text x="202.4" y="21.4" text-anchor="end" style="font-size:12.2px">DMRG</text>
<text x="202.4" y="34.6" text-anchor="end" style="font-size:12.2px">Gutzw (96,0)</text>
<text x="202.4" y="47.8" text-anchor="end" style="font-size:12.2px">Gutzw improved</text>
<text x="71.0" y="277.6" text-anchor="middle">0</text>
<text x="240.25" y="277.6" text-anchor="middle"><tspan class="pi">π</tspan>/2</text>
<text x="409.4" y="277.6" text-anchor="middle" class="pi">π</text>
<text x="239.75" y="293.3" text-anchor="middle">q</text>
<text transform="translate(15,236.3) rotate(-90) scale(1,1.05)" text-anchor="start" style="font-size:14.6px">Dimer structure factor&#160;&#160;&lt;<tspan class="it" dx="1.9">B</tspan><tspan dy="3.5" dx="-0.3" style="font-size:11.8px">q</tspan><tspan dy="-3.5" dx="1.6">&#160;</tspan><tspan class="it">B</tspan><tspan dy="3.5" dx="-0.4" style="font-size:11.8px">-q</tspan><tspan dy="-3.5" dx="-0.8">&gt;</tspan></text>
</svg>
</body></html>
